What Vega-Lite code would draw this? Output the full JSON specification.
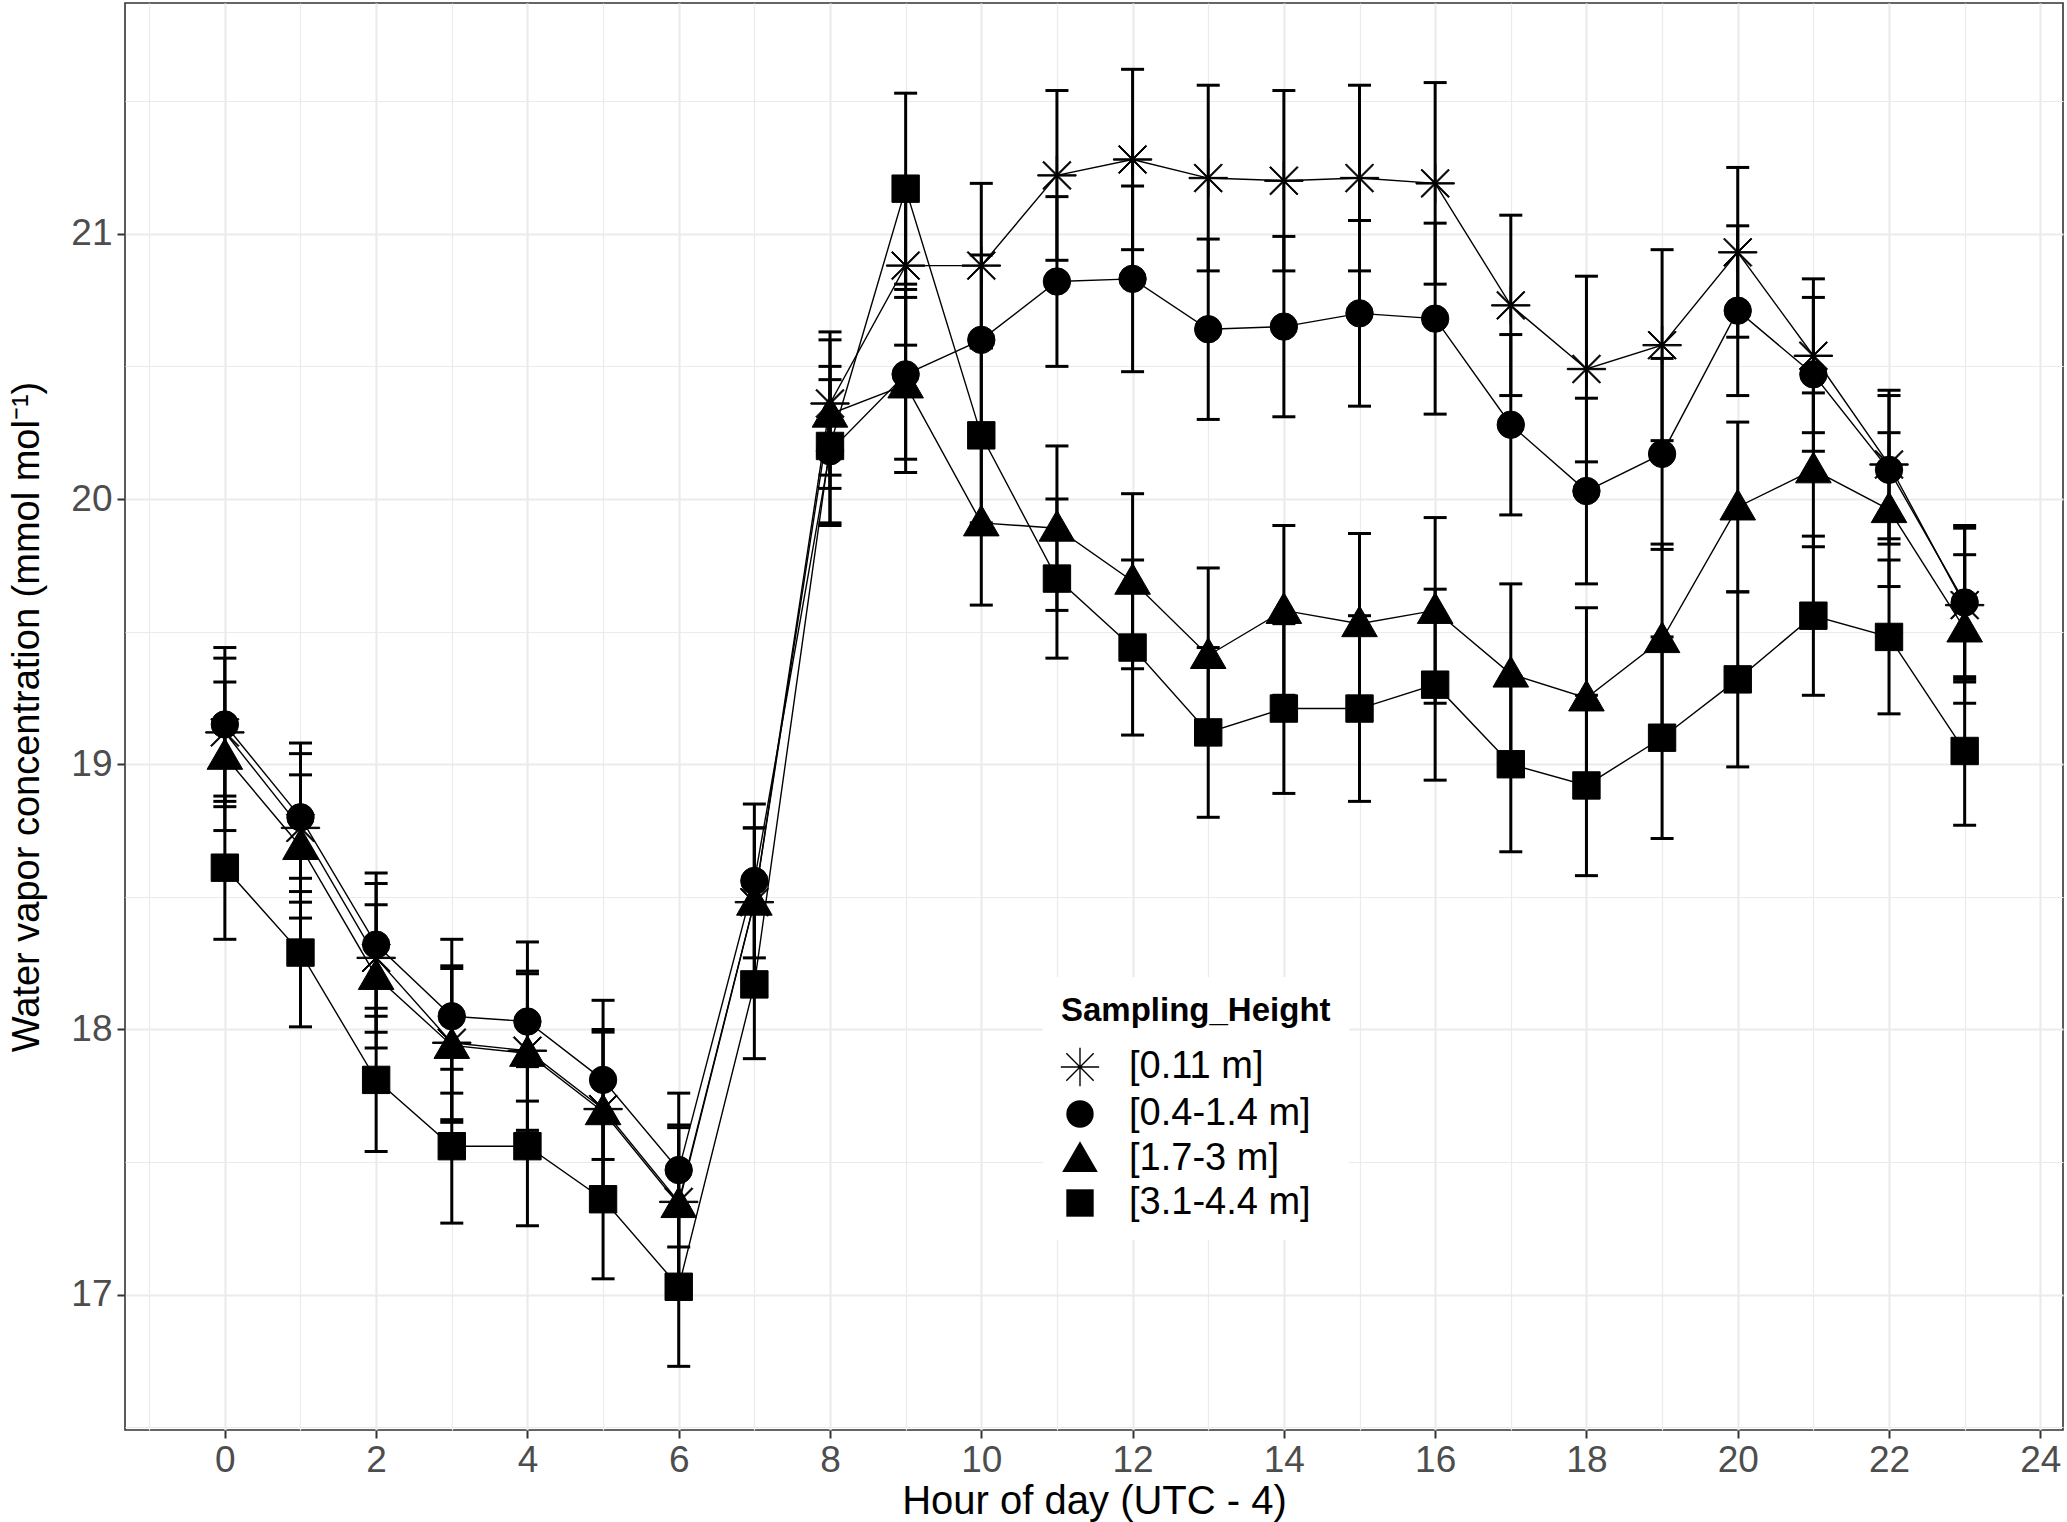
{
  "$schema": "https://vega.github.io/schema/vega-lite/v6.json",
  "width": 1938,
  "height": 1427,
  "autosize": {"type": "none"},
  "padding": {"left": 125, "top": 3, "right": 4, "bottom": 92},
  "background": "white",
  "data": {
    "values": [
      {"h": 0, "g": "[0.11 m]", "m": 19.12, "lo": 18.84, "hi": 19.40},
      {"h": 1, "g": "[0.11 m]", "m": 18.76, "lo": 18.48, "hi": 19.04},
      {"h": 2, "g": "[0.11 m]", "m": 18.27, "lo": 17.99, "hi": 18.55},
      {"h": 3, "g": "[0.11 m]", "m": 17.95, "lo": 17.66, "hi": 18.24},
      {"h": 4, "g": "[0.11 m]", "m": 17.92, "lo": 17.62, "hi": 18.22},
      {"h": 5, "g": "[0.11 m]", "m": 17.70, "lo": 17.40, "hi": 18.00},
      {"h": 6, "g": "[0.11 m]", "m": 17.35, "lo": 17.06, "hi": 17.64},
      {"h": 7, "g": "[0.11 m]", "m": 18.48, "lo": 18.20, "hi": 18.76},
      {"h": 8, "g": "[0.11 m]", "m": 20.36, "lo": 20.09, "hi": 20.63},
      {"h": 9, "g": "[0.11 m]", "m": 20.88, "lo": 20.58, "hi": 21.18},
      {"h": 10, "g": "[0.11 m]", "m": 20.88, "lo": 20.57, "hi": 21.19},
      {"h": 11, "g": "[0.11 m]", "m": 21.22, "lo": 20.90, "hi": 21.54},
      {"h": 12, "g": "[0.11 m]", "m": 21.28, "lo": 20.94, "hi": 21.62},
      {"h": 13, "g": "[0.11 m]", "m": 21.21, "lo": 20.86, "hi": 21.56},
      {"h": 14, "g": "[0.11 m]", "m": 21.20, "lo": 20.86, "hi": 21.54},
      {"h": 15, "g": "[0.11 m]", "m": 21.21, "lo": 20.86, "hi": 21.56},
      {"h": 16, "g": "[0.11 m]", "m": 21.19, "lo": 20.81, "hi": 21.57},
      {"h": 17, "g": "[0.11 m]", "m": 20.73, "lo": 20.39, "hi": 21.07},
      {"h": 18, "g": "[0.11 m]", "m": 20.49, "lo": 20.14, "hi": 20.84},
      {"h": 19, "g": "[0.11 m]", "m": 20.58, "lo": 20.22, "hi": 20.94},
      {"h": 20, "g": "[0.11 m]", "m": 20.93, "lo": 20.61, "hi": 21.25},
      {"h": 21, "g": "[0.11 m]", "m": 20.54, "lo": 20.25, "hi": 20.83},
      {"h": 22, "g": "[0.11 m]", "m": 20.13, "lo": 19.85, "hi": 20.41},
      {"h": 23, "g": "[0.11 m]", "m": 19.60, "lo": 19.31, "hi": 19.89},
      {"h": 0, "g": "[0.4-1.4 m]", "m": 19.15, "lo": 18.86, "hi": 19.44},
      {"h": 1, "g": "[0.4-1.4 m]", "m": 18.80, "lo": 18.52, "hi": 19.08},
      {"h": 2, "g": "[0.4-1.4 m]", "m": 18.32, "lo": 18.05, "hi": 18.59},
      {"h": 3, "g": "[0.4-1.4 m]", "m": 18.05, "lo": 17.76, "hi": 18.34},
      {"h": 4, "g": "[0.4-1.4 m]", "m": 18.03, "lo": 17.73, "hi": 18.33},
      {"h": 5, "g": "[0.4-1.4 m]", "m": 17.81, "lo": 17.51, "hi": 18.11},
      {"h": 6, "g": "[0.4-1.4 m]", "m": 17.47, "lo": 17.18, "hi": 17.76},
      {"h": 7, "g": "[0.4-1.4 m]", "m": 18.56, "lo": 18.27, "hi": 18.85},
      {"h": 8, "g": "[0.4-1.4 m]", "m": 20.18, "lo": 19.91, "hi": 20.45},
      {"h": 9, "g": "[0.4-1.4 m]", "m": 20.47, "lo": 20.15, "hi": 20.79},
      {"h": 10, "g": "[0.4-1.4 m]", "m": 20.60, "lo": 20.28, "hi": 20.92},
      {"h": 11, "g": "[0.4-1.4 m]", "m": 20.82, "lo": 20.50, "hi": 21.14},
      {"h": 12, "g": "[0.4-1.4 m]", "m": 20.83, "lo": 20.48, "hi": 21.18},
      {"h": 13, "g": "[0.4-1.4 m]", "m": 20.64, "lo": 20.30, "hi": 20.98},
      {"h": 14, "g": "[0.4-1.4 m]", "m": 20.65, "lo": 20.31, "hi": 20.99},
      {"h": 15, "g": "[0.4-1.4 m]", "m": 20.70, "lo": 20.35, "hi": 21.05},
      {"h": 16, "g": "[0.4-1.4 m]", "m": 20.68, "lo": 20.32, "hi": 21.04},
      {"h": 17, "g": "[0.4-1.4 m]", "m": 20.28, "lo": 19.94, "hi": 20.62},
      {"h": 18, "g": "[0.4-1.4 m]", "m": 20.03, "lo": 19.68, "hi": 20.38},
      {"h": 19, "g": "[0.4-1.4 m]", "m": 20.17, "lo": 19.81, "hi": 20.53},
      {"h": 20, "g": "[0.4-1.4 m]", "m": 20.71, "lo": 20.39, "hi": 21.03},
      {"h": 21, "g": "[0.4-1.4 m]", "m": 20.47, "lo": 20.18, "hi": 20.76},
      {"h": 22, "g": "[0.4-1.4 m]", "m": 20.11, "lo": 19.83, "hi": 20.39},
      {"h": 23, "g": "[0.4-1.4 m]", "m": 19.61, "lo": 19.32, "hi": 19.90},
      {"h": 0, "g": "[1.7-3 m]", "m": 19.03, "lo": 18.75, "hi": 19.31},
      {"h": 1, "g": "[1.7-3 m]", "m": 18.69, "lo": 18.42, "hi": 18.96},
      {"h": 2, "g": "[1.7-3 m]", "m": 18.20, "lo": 17.93, "hi": 18.47},
      {"h": 3, "g": "[1.7-3 m]", "m": 17.94, "lo": 17.65, "hi": 18.23},
      {"h": 4, "g": "[1.7-3 m]", "m": 17.91, "lo": 17.61, "hi": 18.21},
      {"h": 5, "g": "[1.7-3 m]", "m": 17.69, "lo": 17.39, "hi": 17.99},
      {"h": 6, "g": "[1.7-3 m]", "m": 17.34, "lo": 17.05, "hi": 17.63},
      {"h": 7, "g": "[1.7-3 m]", "m": 18.48, "lo": 18.20, "hi": 18.76},
      {"h": 8, "g": "[1.7-3 m]", "m": 20.32, "lo": 20.04, "hi": 20.60},
      {"h": 9, "g": "[1.7-3 m]", "m": 20.43, "lo": 20.10, "hi": 20.76},
      {"h": 10, "g": "[1.7-3 m]", "m": 19.91, "lo": 19.60, "hi": 20.22},
      {"h": 11, "g": "[1.7-3 m]", "m": 19.89, "lo": 19.58, "hi": 20.20},
      {"h": 12, "g": "[1.7-3 m]", "m": 19.69, "lo": 19.36, "hi": 20.02},
      {"h": 13, "g": "[1.7-3 m]", "m": 19.41, "lo": 19.08, "hi": 19.74},
      {"h": 14, "g": "[1.7-3 m]", "m": 19.58, "lo": 19.26, "hi": 19.90},
      {"h": 15, "g": "[1.7-3 m]", "m": 19.53, "lo": 19.19, "hi": 19.87},
      {"h": 16, "g": "[1.7-3 m]", "m": 19.58, "lo": 19.23, "hi": 19.93},
      {"h": 17, "g": "[1.7-3 m]", "m": 19.34, "lo": 19.00, "hi": 19.68},
      {"h": 18, "g": "[1.7-3 m]", "m": 19.25, "lo": 18.91, "hi": 19.59},
      {"h": 19, "g": "[1.7-3 m]", "m": 19.47, "lo": 19.11, "hi": 19.83},
      {"h": 20, "g": "[1.7-3 m]", "m": 19.97, "lo": 19.65, "hi": 20.29},
      {"h": 21, "g": "[1.7-3 m]", "m": 20.11, "lo": 19.82, "hi": 20.40},
      {"h": 22, "g": "[1.7-3 m]", "m": 19.96, "lo": 19.67, "hi": 20.25},
      {"h": 23, "g": "[1.7-3 m]", "m": 19.51, "lo": 19.23, "hi": 19.79},
      {"h": 0, "g": "[3.1-4.4 m]", "m": 18.61, "lo": 18.34, "hi": 18.88},
      {"h": 1, "g": "[3.1-4.4 m]", "m": 18.29, "lo": 18.01, "hi": 18.57},
      {"h": 2, "g": "[3.1-4.4 m]", "m": 17.81, "lo": 17.54, "hi": 18.08},
      {"h": 3, "g": "[3.1-4.4 m]", "m": 17.56, "lo": 17.27, "hi": 17.85},
      {"h": 4, "g": "[3.1-4.4 m]", "m": 17.56, "lo": 17.26, "hi": 17.86},
      {"h": 5, "g": "[3.1-4.4 m]", "m": 17.36, "lo": 17.06, "hi": 17.66},
      {"h": 6, "g": "[3.1-4.4 m]", "m": 17.03, "lo": 16.73, "hi": 17.33},
      {"h": 7, "g": "[3.1-4.4 m]", "m": 18.17, "lo": 17.89, "hi": 18.45},
      {"h": 8, "g": "[3.1-4.4 m]", "m": 20.20, "lo": 19.90, "hi": 20.50},
      {"h": 9, "g": "[3.1-4.4 m]", "m": 21.17, "lo": 20.81, "hi": 21.53},
      {"h": 10, "g": "[3.1-4.4 m]", "m": 20.24, "lo": 19.91, "hi": 20.57},
      {"h": 11, "g": "[3.1-4.4 m]", "m": 19.70, "lo": 19.40, "hi": 20.00},
      {"h": 12, "g": "[3.1-4.4 m]", "m": 19.44, "lo": 19.11, "hi": 19.77},
      {"h": 13, "g": "[3.1-4.4 m]", "m": 19.12, "lo": 18.80, "hi": 19.44},
      {"h": 14, "g": "[3.1-4.4 m]", "m": 19.21, "lo": 18.89, "hi": 19.53},
      {"h": 15, "g": "[3.1-4.4 m]", "m": 19.21, "lo": 18.86, "hi": 19.56},
      {"h": 16, "g": "[3.1-4.4 m]", "m": 19.30, "lo": 18.94, "hi": 19.66},
      {"h": 17, "g": "[3.1-4.4 m]", "m": 19.00, "lo": 18.67, "hi": 19.33},
      {"h": 18, "g": "[3.1-4.4 m]", "m": 18.92, "lo": 18.58, "hi": 19.26},
      {"h": 19, "g": "[3.1-4.4 m]", "m": 19.10, "lo": 18.72, "hi": 19.48},
      {"h": 20, "g": "[3.1-4.4 m]", "m": 19.32, "lo": 18.99, "hi": 19.65},
      {"h": 21, "g": "[3.1-4.4 m]", "m": 19.56, "lo": 19.26, "hi": 19.86},
      {"h": 22, "g": "[3.1-4.4 m]", "m": 19.48, "lo": 19.19, "hi": 19.77},
      {"h": 23, "g": "[3.1-4.4 m]", "m": 19.05, "lo": 18.77, "hi": 19.33}
    ]
  },
  "layer": [
    {
      "mark": {"type": "rule", "color": "black", "strokeWidth": 3},
      "encoding": {
        "x": {
          "field": "h", "type": "quantitative",
          "scale": {"domain": [-1.32, 24.3], "nice": false, "zero": false},
          "axis": {"orient": "bottom", "values": [-1, 1, 3, 5, 7, 9, 11, 13, 15, 17, 19, 21, 23], "grid": true, "gridColor": "#EBEBEB", "gridWidth": 1.2, "labels": false, "ticks": false, "domain": false, "title": null}
        },
        "y": {
          "field": "lo", "type": "quantitative",
          "scale": {"domain": [16.49, 21.87], "nice": false, "zero": false},
          "axis": {"orient": "left", "values": [16.5, 17.5, 18.5, 19.5, 20.5, 21.5], "grid": true, "gridColor": "#EBEBEB", "gridWidth": 1.2, "labels": false, "ticks": false, "domain": false, "title": null}
        },
        "y2": {"field": "hi"},
        "detail": {"field": "g"}
      }
    },
    {
      "mark": {"type": "tick", "orient": "horizontal", "color": "black", "size": 23, "thickness": 3, "opacity": 1},
      "encoding": {
        "x": {"field": "h", "type": "quantitative", "axis": null},
        "y": {"field": "hi", "type": "quantitative", "axis": null},
        "detail": {"field": "g"}
      }
    },
    {
      "mark": {"type": "tick", "orient": "horizontal", "color": "black", "size": 23, "thickness": 3, "opacity": 1},
      "encoding": {
        "x": {"field": "h", "type": "quantitative", "axis": null},
        "y": {"field": "lo", "type": "quantitative", "axis": null},
        "detail": {"field": "g"}
      }
    },
    {
      "mark": {"type": "line", "color": "black", "strokeWidth": 1.4},
      "encoding": {
        "x": {"field": "h", "type": "quantitative", "axis": null},
        "y": {"field": "m", "type": "quantitative", "axis": null},
        "detail": {"field": "g"}
      }
    },
    {
      "mark": {"type": "point", "filled": true, "color": "black", "stroke": "black", "strokeWidth": 1, "size": 750, "opacity": 1},
      "encoding": {
        "x": {
          "field": "h", "type": "quantitative",
          "axis": {"orient": "bottom", "values": [0, 2, 4, 6, 8, 10, 12, 14, 16, 18, 20, 22, 24], "grid": true, "gridColor": "#EBEBEB", "gridWidth": 2.2, "domain": false, "tickColor": "#333333", "tickWidth": 2, "tickSize": 8, "labelFontSize": 37, "labelColor": "#4D4D4D", "labelPadding": 4, "title": "Hour of day (UTC - 4)", "titleFontSize": 40, "titleFontWeight": "normal", "titleColor": "black", "titlePadding": 3}
        },
        "y": {
          "field": "m", "type": "quantitative",
          "axis": {"orient": "left", "values": [17, 18, 19, 20, 21], "grid": true, "gridColor": "#EBEBEB", "gridWidth": 2.2, "domain": false, "tickColor": "#333333", "tickWidth": 2, "tickSize": 8, "labelFontSize": 37, "labelColor": "#4D4D4D", "labelPadding": 5, "title": "Water vapor concentration (mmol mol⁻¹)", "titleFontSize": 38, "titleFontWeight": "normal", "titleColor": "black", "titlePadding": 24}
        },
        "shape": {
          "field": "g", "type": "nominal",
          "scale": {
            "domain": ["[0.11 m]", "[0.4-1.4 m]", "[1.7-3 m]", "[3.1-4.4 m]"],
            "range": [
              "M-1.4,-0.05H1.4V0.05H-1.4ZM-0.05,-1.4H0.05V1.4H-0.05ZM-0.965,-1.035L1.035,0.965L0.965,1.035L-1.035,-0.965ZM-1.035,0.965L0.965,-1.035L1.035,-0.965L-0.965,1.035Z",
              "circle",
              "M0,-1.3L1.3,0.95L-1.3,0.95Z",
              "square"
            ]
          },
          "legend": {
            "orient": "none", "legendX": 918, "legendY": 974, "direction": "vertical",
            "title": "Sampling_Height", "titleFontSize": 33, "titleFontWeight": "bold", "titleColor": "black", "titlePadding": 20, "titleLimit": 500,
            "labelFontSize": 38, "labelColor": "black", "labelOffset": 30, "labelLimit": 500,
            "symbolSize": 750, "symbolFillColor": "black", "symbolStrokeColor": "black", "symbolStrokeWidth": 1, "symbolOpacity": 1,
            "rowPadding": 6, "padding": 18, "fillColor": "white"
          }
        }
      }
    }
  ],
  "resolve": {"axis": {"x": "independent", "y": "independent"}},
  "config": {
    "font": "Liberation Sans, Arial, sans-serif",
    "view": {"stroke": "#333333", "strokeWidth": 1.6}
  }
}
